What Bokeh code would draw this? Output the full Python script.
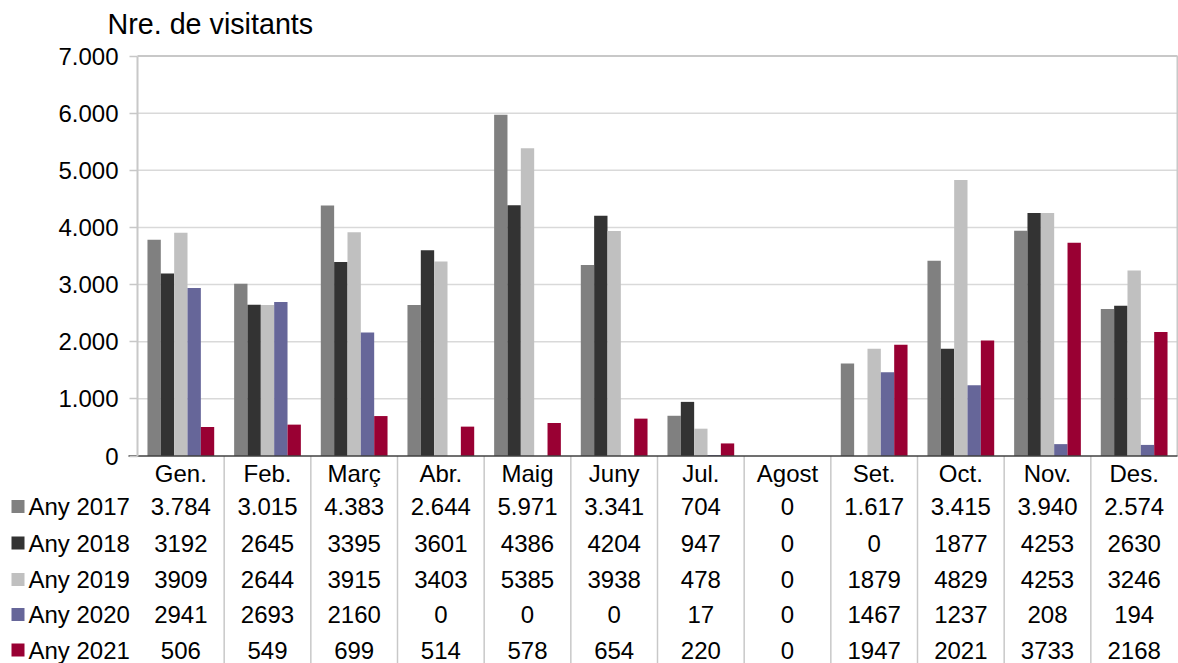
from bokeh.plotting import figure
from bokeh.models import (Range1d, FixedTicker, LinearAxis, ColumnDataSource)
from bokeh.transform import dodge
from bokeh.core.properties import value
from bokeh.embed import file_html
from bokeh.resources import INLINE

# ---------------- data ----------------
months = ["Gen.", "Feb.", "Març", "Abr.", "Maig", "Juny", "Jul.", "Agost",
          "Set.", "Oct.", "Nov.", "Des."]
series = ["Any 2017", "Any 2018", "Any 2019", "Any 2020", "Any 2021"]
v2017 = [3784, 3015, 4383, 2644, 5971, 3341, 704, 0, 1617, 3415, 3940, 2574]
v2018 = [3192, 2645, 3395, 3601, 4386, 4204, 947, 0, 0, 1877, 4253, 2630]
v2019 = [3909, 2644, 3915, 3403, 5385, 3938, 478, 0, 1879, 4829, 4253, 3246]
v2020 = [2941, 2693, 2160, 0, 0, 0, 17, 0, 1467, 1237, 208, 194]
v2021 = [506, 549, 699, 514, 578, 654, 220, 0, 1947, 2021, 3733, 2168]
colors = ["#808080", "#333333", "#c0c0c0", "#666699", "#990033"]
yticks = [0, 1000, 2000, 3000, 4000, 5000, 6000, 7000]
title_text = "Nre. de visitants"

values = [v2017, v2018, v2019, v2020, v2021]


def dotted(v):
    return f"{v:,}".replace(",", ".")


# table text: first row uses thousands dots, the others plain
row_texts = [[dotted(v) for v in v2017]] + [[str(v) for v in vals] for vals in values[1:]]

# ---------------- layout constants (page pixels) ----------------
FONT = "Liberation Sans"
FS = "24px"
W, H = 1178, 663
LEFT = 137            # x of the value axis
RIGHT = 1177          # x of the right edge of the plot area
ZERO = 455.5          # y of value 0
PX = 7000 / 400.0     # data units per pixel
CW = (RIGHT - LEFT) / 12.0   # pixels per month column


def xd(page_x):
    return (page_x - LEFT) / CW


def yd(page_y):
    return -(page_y - ZERO) * PX


p = figure(x_range=Range1d(xd(0), xd(W)), y_range=Range1d(yd(H), yd(0)),
           width=W, height=H, output_backend="svg", toolbar_location=None,
           x_axis_location=None, y_axis_location=None,
           min_border_left=0, min_border_right=0, min_border_top=0,
           min_border_bottom=0)
p.outline_line_color = None
p.xgrid.visible = False
p.ygrid.visible = False

# title (axis caption above the value axis)
p.text(x=[xd(107)], y=[yd(23)], text=[title_text], text_align="left",
       text_baseline="middle", text_font=value(FONT), text_font_size="28.7px",
       text_color="black")

# value axis, fixed at the left edge of the plot area
ax = LinearAxis(fixed_location=0, bounds=(0, 7000), ticker=FixedTicker(ticks=yticks),
                major_label_overrides={t: dotted(t) for t in yticks},
                major_label_text_font=FONT, major_label_text_font_size=FS,
                major_label_text_color="black", major_label_standoff=11,
                axis_line_color="#c8c8c8", axis_line_width=2,
                major_tick_line_color="#c8c8c8", major_tick_line_width=1.5,
                major_tick_out=8, major_tick_in=0, minor_tick_line_color=None)
p.add_layout(ax, "left")

# horizontal grid lines over the plot area only
gy = yticks[1:-1]
p.segment(x0=[0] * len(gy), x1=[12] * len(gy), y0=gy, y1=gy,
          line_color="#d9d9d9", line_width=1.5)
# plot-area border: top line and right line
p.segment(x0=[0, 12], x1=[12, 12], y0=[7000, 0], y1=[7000, 7000],
          line_color="#c8c8c8", line_width=2)

# bars
bw = 0.154
offsets = [-2 * bw, -bw, 0, bw, 2 * bw]
centers = [i + 0.5 for i in range(len(months))]
src = ColumnDataSource(dict(xc=centers, **{s: v for s, v in zip(series, values)}))
for s, c, off in zip(series, colors, offsets):
    p.vbar(x=dodge("xc", off), top=s, width=bw, source=src,
           fill_color=c, line_color=None)

# data table separators and zero line
seps = list(range(1, 12))
p.segment(x0=seps, x1=seps, y0=[0] * 11, y1=[yd(H)] * 11,
          line_color="#c8c8c8", line_width=1.5)
p.segment(x0=[xd(128)], x1=[12], y0=[0], y1=[0], line_color="#404040", line_width=1.5)

# data table text
month_y = yd(472.5)
row_ys = [yd(506), yd(542.5), yd(579), yd(614), yd(649.5)]
tx, ty, tt = list(centers), [month_y] * 12, list(months)
for ry, texts in zip(row_ys, row_texts):
    tx += centers
    ty += [ry] * 12
    tt += texts
p.text(x="x", y="y", text="t", source=ColumnDataSource(dict(x=tx, y=ty, t=tt)),
       text_align="center", text_baseline="middle", text_font=value(FONT),
       text_font_size=FS, text_color="black")

# row headers: colour key + series name
hdr = ColumnDataSource(dict(kx=[xd(17.5)] * 5, lx=[xd(28)] * 5, y=row_ys,
                            c=colors, s=series))
p.scatter(x="kx", y="y", marker="square", size=13, fill_color="c", line_color=None,
          source=hdr)
p.text(x="lx", y="y", text="s", text_align="left", text_baseline="middle",
       text_font=value(FONT), text_font_size=FS, text_color="black", source=hdr)

open("out.html", "w").write(file_html(p, INLINE))
